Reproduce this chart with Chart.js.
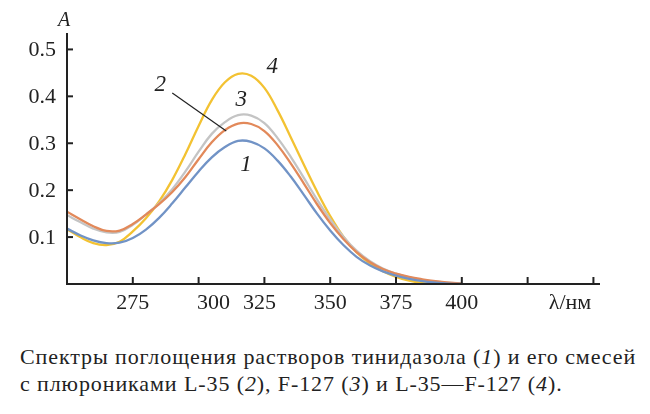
<!DOCTYPE html>
<html>
<head>
<meta charset="utf-8">
<script src="https://cdn.jsdelivr.net/npm/chart.js"></script>
</head>
<body style="margin:0;background:#fff">
<div style="position:relative;width:650px;height:414px">
  <canvas id="myChart" width="650" height="332"></canvas>
  <div id="caption" style="position:absolute;left:20px;top:343px;font-family:'Liberation Serif','Noto Serif CJK SC','Times New Roman',serif;font-size:22px;line-height:27px;color:#222;white-space:nowrap"><span id="capLine1">Спектры поглощения растворов тинидазола (<i>1</i>) и его смесей</span><br><span id="capLine2">с плюрониками L-35 (<i>2</i>), F-127 (<i>3</i>) и L-35—F-127 (<i>4</i>).</span></div>
</div>
<script>
const SERIF = "'Liberation Serif', 'Noto Serif CJK SC', 'Times New Roman', serif";

// wavelength, nm
const wavelengths = [250,255,260,265,270,275,280,285,290,295,300,305,310,315,320,325,330,335,340,345,350,355,360,365,370,375,380,385,390,395,400];
// absorbance A, curves 1..4
const curve1 = [0.118,0.104,0.093,0.087,0.088,0.098,0.116,0.141,0.172,0.206,0.240,0.270,0.292,0.305,0.303,0.289,0.263,0.229,0.190,0.150,0.114,0.083,0.058,0.040,0.027,0.018,0.011,0.006,0.003,0.001,0.000];
const curve2 = [0.154,0.138,0.123,0.113,0.114,0.128,0.148,0.170,0.196,0.228,0.266,0.302,0.328,0.342,0.341,0.326,0.296,0.257,0.214,0.170,0.130,0.096,0.068,0.047,0.032,0.022,0.015,0.010,0.006,0.003,0.001];
const curve3 = [0.147,0.132,0.118,0.110,0.111,0.126,0.148,0.172,0.202,0.240,0.282,0.320,0.345,0.360,0.359,0.343,0.311,0.271,0.226,0.180,0.138,0.101,0.071,0.049,0.033,0.022,0.014,0.009,0.005,0.003,0.001];
const curve4 = [0.117,0.100,0.087,0.083,0.090,0.112,0.140,0.176,0.222,0.277,0.337,0.392,0.430,0.448,0.444,0.418,0.370,0.313,0.254,0.197,0.145,0.101,0.068,0.044,0.027,0.015,0.007,0.002,0.000,0.000,0.000];

const yTicks = [0.1, 0.2, 0.3, 0.4, 0.5];
const xTicks = [275, 300, 325, 350, 375, 400, 425, 450];
const xTickLabels = ['275', '300', '325', '350', '375', '400', '', ''];

const curveNames = ['1', '2', '3', '4'];
const curveColors = ['#7193c6', '#e2895a', '#c4c4c4', '#f3c232'];

function toPoints(ys) {
  return wavelengths.map((x, i) => ({ x: x, y: ys[i] }));
}

// stretch the caption lines to the width they have in the original figure
function fitCaption() {
  [['capLine1', 616], ['capLine2', 0]].forEach(([id, target]) => {
    const el = document.getElementById(id);
    if (!target) return;
    const n = el.textContent.length;
    const w = el.getBoundingClientRect().width;
    const ls = (target - w) / n;
    document.getElementById('caption').style.letterSpacing = ls.toFixed(2) + 'px';
  });
}

// axes, ticks and curve labels drawn by hand (ticks point inward like the original)
const axesPlugin = {
  id: 'axesPlugin',
  afterDraw(chart) {
    const ctx = chart.ctx;
    const xs = chart.scales.x, ys = chart.scales.y;
    const left = xs.left, right = xs.right, top = ys.top, bottom = ys.bottom;
    ctx.save();
    ctx.strokeStyle = '#222';
    ctx.lineWidth = 2;
    ctx.beginPath();
    ctx.moveTo(left, top);
    ctx.lineTo(left, bottom);
    ctx.lineTo(right, bottom);
    ctx.stroke();

    ctx.fillStyle = '#222';
    ctx.font = '22px ' + SERIF;
    ctx.textAlign = 'right';
    ctx.textBaseline = 'middle';
    yTicks.forEach(v => {
      const py = ys.getPixelForValue(v);
      ctx.beginPath();
      ctx.moveTo(left, py);
      ctx.lineTo(left + 6, py);
      ctx.stroke();
      ctx.fillText(v.toFixed(1), left - 11, py + 1);
    });

    ctx.textAlign = 'center';
    ctx.textBaseline = 'top';
    const nudge = { '300': 15, '325': -5 };
    xTicks.forEach((v, i) => {
      const px = xs.getPixelForValue(v);
      ctx.beginPath();
      ctx.moveTo(px, bottom);
      ctx.lineTo(px, bottom - 7);
      ctx.stroke();
      const t = xTickLabels[i];
      if (t) ctx.fillText(t, px + (nudge[t] || 0), bottom + 8);
    });
    ctx.fillText('λ/нм', 570, bottom + 8);

    ctx.font = 'italic 20px ' + SERIF;
    ctx.textBaseline = 'middle';
    ctx.fillText('A', left - 3, 21);

    // curve numbers
    ctx.font = 'italic 23px ' + SERIF;
    const marks = [
      { t: '1', x: 318, y: 0.254 },
      { t: '2', x: 285.4, y: 0.424 },
      { t: '3', x: 316.2, y: 0.392 },
      { t: '4', x: 328, y: 0.462 }
    ];
    marks.forEach(m => ctx.fillText(m.t, xs.getPixelForValue(m.x), ys.getPixelForValue(m.y)));

    // leader line for curve 2
    ctx.lineWidth = 1.2;
    ctx.beginPath();
    ctx.moveTo(xs.getPixelForValue(290), ys.getPixelForValue(0.407));
    ctx.lineTo(xs.getPixelForValue(310.5), ys.getPixelForValue(0.326));
    ctx.stroke();
    ctx.restore();
  }
};

new Chart(document.getElementById('myChart'), {
  type: 'line',
  data: {
    datasets: [curve1, curve2, curve3, curve4].map((c, i) => ({
      label: curveNames[i],
      data: toPoints(c),
      borderColor: curveColors[i],
      backgroundColor: curveColors[i],
      borderWidth: 2.3,
      pointRadius: 0,
      tension: 0.4,
      fill: false
    }))
  },
  options: {
    responsive: false,
    animation: false,
    layout: { padding: { left: 67, right: 50, top: 33, bottom: 48 } },
    plugins: {
      legend: { display: false },
      tooltip: { enabled: false }
    },
    scales: {
      x: { type: 'linear', min: 250, max: 452.5, display: false },
      y: { min: 0, max: 0.535, display: false }
    }
  },
  plugins: [axesPlugin]
});

fitCaption();
</script>
</body>
</html>
